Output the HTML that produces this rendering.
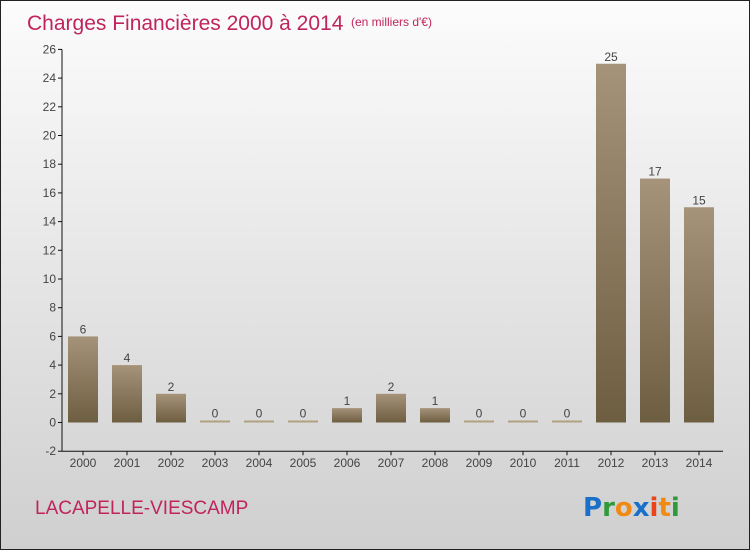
<!DOCTYPE html>
<html><head><meta charset="utf-8"><style>
body{margin:0;width:750px;height:550px;overflow:hidden;font-family:"Liberation Sans",sans-serif}
#wrap{position:absolute;left:0;top:0;width:748px;height:548px;border:1px solid #222;background:linear-gradient(#fcfcfc,#cfcfcf)}
</style></head><body>
<div id="wrap">
<svg width="748" height="548">
<defs><linearGradient id="bg" x1="0" y1="0" x2="0" y2="1"><stop offset="0" stop-color="#a5937a"/><stop offset="1" stop-color="#6e5e41"/></linearGradient></defs>
<text x="26" y="29" font-size="21" fill="#c0245c">Charges Financières 2000 à 2014</text>
<text x="350" y="25" font-size="12" fill="#c0245c">(en milliers d'€)</text>
<g id="axes"></g>
<g id="bars"></g>
<text x="34" y="513" font-size="19" fill="#c0245c">LACAPELLE-VIESCAMP</text>
<g font-size="26" font-weight="bold" font-family="'DejaVu Sans',sans-serif">
<text x="582" y="515"><tspan fill="#1a6fc9">P</tspan><tspan fill="#2f9a3a">r</tspan><tspan fill="#f08a12">o</tspan><tspan fill="#1a6fc9">x</tspan><tspan fill="#e8451a">i</tspan><tspan fill="#f08a12">t</tspan><tspan fill="#2f9a3a">i</tspan></text>
</g>
</svg></div>
<script>
const categories=["2000","2001","2002","2003","2004","2005","2006","2007","2008","2009","2010","2011","2012","2013","2014"];
const values=[6,4,2,0,0,0,1,2,1,0,0,0,25,17,15];
const yTicks=[-2,0,2,4,6,8,10,12,14,16,18,20,22,24,26];
const NS="http://www.w3.org/2000/svg";
const y=v=>421.5-v*14.35;
const x=i=>82+i*44;
function mk(t,a,p){const e=document.createElementNS(NS,t);for(const k in a)e.setAttribute(k,a[k]);p.appendChild(e);return e;}
const ax=document.getElementById('axes'),bg=document.getElementById('bars');
const yl=mk('line',{x1:61,y1:y(26),x2:61,y2:y(-2),stroke:'#111'},ax);


const xl=mk('line',{x1:61,y1:y(-2),x2:722,y2:y(-2),stroke:'#111'},ax);


yTicks.forEach(t=>{
 mk('line',{x1:57,x2:61,y1:y(t),y2:y(t),stroke:'#111'},ax);
 const tx=mk('text',{x:55,y:y(t)+4,'font-size':12,'text-anchor':'end',fill:'#444'},ax);
 tx.textContent=t;
 
 
});
categories.forEach((c,i)=>{
 mk('line',{x1:x(i),x2:x(i),y1:y(-2),y2:y(-2)+4,stroke:'#111'},ax);
 const tx=mk('text',{x:x(i),y:466,'font-size':12,'text-anchor':'middle',fill:'#444'},ax);
 tx.textContent=c;
 
 
 const v=values[i];
 const top=v>0?y(v):y(0)-2;
 const r=mk('rect',{x:x(i)-15,y:top,width:30,height:y(0)-top,fill:v>0?'url(#bg)':'#b0a080'},bg);
 
 
 const lb=mk('text',{x:x(i),y:top-3,'font-size':12,'text-anchor':'middle',fill:'#444'},bg);
 lb.textContent=v;
 
 
});
</script>
</body></html>
